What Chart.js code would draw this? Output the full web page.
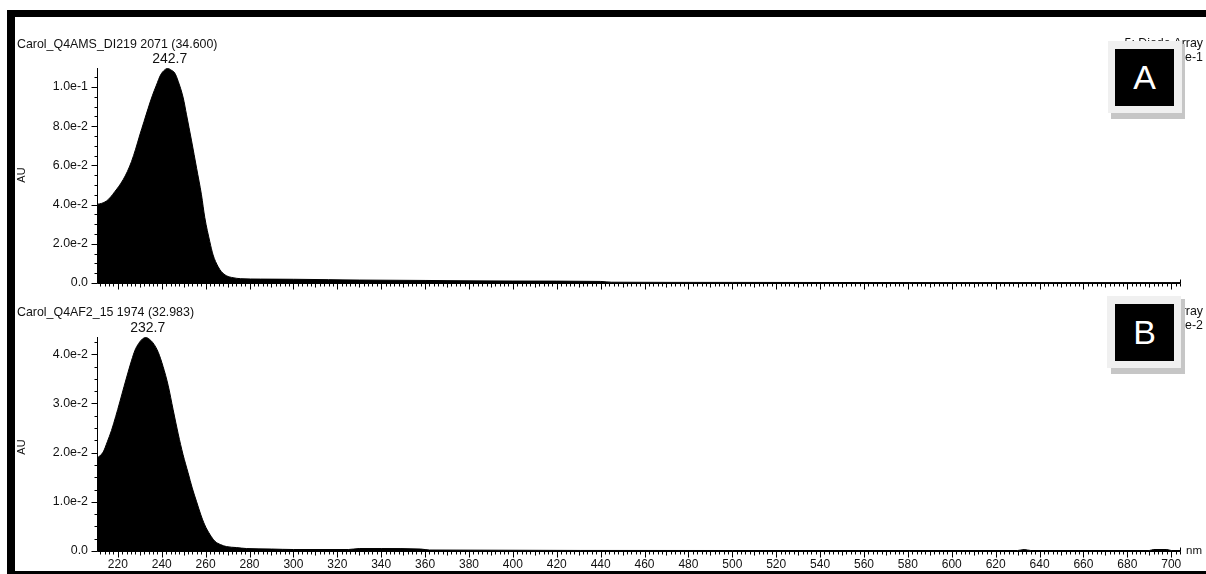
<!DOCTYPE html>
<html><head><meta charset="utf-8">
<script src="https://cdn.jsdelivr.net/npm/chart.js@4/dist/chart.umd.min.js"></script>
<style>
html,body{margin:0;padding:0;background:#fff;}
body{width:1206px;height:574px;position:relative;overflow:hidden;font-family:"Liberation Sans",Arial,sans-serif;}
canvas{position:absolute;left:0;}
.t{position:absolute;font-size:12.4px;color:#111;white-space:nowrap;line-height:14px;}
.r{text-align:right;right:3px;}
.bar{position:absolute;background:#000;}
.shadow{position:absolute;background:#c6c6c6;}
.outer{position:absolute;background:#f0f0f0;}
.inner{position:absolute;background:#000;color:#fff;font-size:34px;display:flex;align-items:center;justify-content:center;}
.au{position:absolute;font-size:11px;color:#111;transform:rotate(-90deg);transform-origin:center center;width:20px;text-align:center;line-height:12px;}
</style></head><body>
<canvas id="cA" width="1206" height="300" style="top:0;width:1206px;height:300px"></canvas>
<canvas id="cB" width="1206" height="284" style="top:290px;width:1206px;height:284px"></canvas>

<div class="t" id="titleA" style="left:17px;top:37px"></div>
<div class="t r" style="top:36px">5: Diode Array</div>
<div class="t r" style="top:50px">Range: 1.095e-1</div>
<div class="t" id="titleB" style="left:17px;top:305px"></div>
<div class="t r" style="top:304px">5: Diode Array</div>
<div class="t r" style="top:318px">Range: 4.334e-2</div>
<div class="t" style="left:1186px;top:543px;font-size:11.5px">nm</div>
<div class="au" style="left:11px;top:169px">AU</div>
<div class="au" style="left:11px;top:441px">AU</div>

<div class="shadow" style="left:1111px;top:44px;width:74px;height:75px"></div>
<div class="outer" style="left:1108px;top:41px;width:74px;height:72px"></div>
<div class="inner" style="left:1115px;top:49px;width:59px;height:57px">A</div>
<div class="shadow" style="left:1111px;top:299px;width:74px;height:75px"></div>
<div class="outer" style="left:1107px;top:296px;width:74px;height:72px"></div>
<div class="inner" style="left:1115px;top:304px;width:59px;height:57px">B</div>

<div class="bar" style="left:7px;top:10px;width:1199px;height:7px"></div>
<div class="bar" style="left:7px;top:10px;width:8px;height:564px"></div>
<div class="bar" style="left:7px;top:571px;width:1199px;height:3px"></div>

<script>
// ---------- data ----------
const titleA = "Carol_Q4AMS_DI219 2071 (34.600)";
const titleB = "Carol_Q4AF2_15 1974 (32.983)";
const peakA = {x: 242.7, text: "242.7"};
const peakB = {x: 232.7, text: "232.7"};

const wavelengthA = [210.6,212.5,214.8,216.8,218.6,220.5,222.4,224.3,226.2,228.1,230.0,231.9,233.8,235.7,237.6,239.5,241.3,242.7,244.2,246.0,247.5,249.8,251.3,253.6,255.9,258.1,259.6,261.9,263.4,265.7,267.2,269.5,272.5,276,285,300,316,330,360,370,400,440,445,500,600,700,704];
const absorbanceA = [0.0402,0.0406,0.0418,0.0440,0.0466,0.0494,0.0527,0.0568,0.0619,0.0683,0.0755,0.0823,0.0891,0.0955,0.1010,0.1062,0.1087,0.1095,0.1087,0.1070,0.1029,0.0944,0.0858,0.0725,0.0585,0.0450,0.0335,0.0211,0.0143,0.0083,0.0058,0.0037,0.0027,0.0022,0.0020,0.0019,0.0017,0.0015,0.0013,0.0012,0.0010,0.0008,0.0004,0.0003,0.0002,0.0002,0.0002];

const wavelengthB = [210.6,213.3,215.2,217.1,219.0,220.9,222.8,224.7,226.3,227.8,229.5,231.2,232.7,234.5,236.5,238.4,240.6,242.9,245.2,247.5,249.7,252.0,253.9,255.9,257.7,259.6,261.9,264.2,266.8,269.5,274,278.6,290,300,325,330,340,358,362,500,630,633,636,690,692,698,700,704];
const absorbanceB = [0.0189,0.0201,0.0222,0.0245,0.0273,0.0303,0.0334,0.0364,0.0388,0.0408,0.0422,0.0431,0.0434,0.0430,0.0420,0.0404,0.0375,0.0337,0.0287,0.0238,0.0196,0.0159,0.0128,0.0100,0.0075,0.0053,0.0034,0.0020,0.0013,0.0009,0.0007,0.0005,0.0004,0.0003,0.0003,0.0005,0.0005,0.0004,0.0002,0.0001,0.0001,0.0003,0.0001,0.0001,0.0003,0.0003,0.0001,0.0001];

const xTicks = [220,240,260,280,300,320,340,360,380,400,420,440,460,480,500,520,540,560,580,600,620,640,660,680,700];
const yTicksA = [0, 0.02, 0.04, 0.06, 0.08, 0.10];
const yTickLabelsA = ["0.0","2.0e-2","4.0e-2","6.0e-2","8.0e-2","1.0e-1"];
const yTicksB = [0, 0.01, 0.02, 0.03, 0.04];
const yTickLabelsB = ["0.0","1.0e-2","2.0e-2","3.0e-2","4.0e-2"];

document.getElementById('titleA').textContent = titleA;
document.getElementById('titleB').textContent = titleB;

const FONT = '"Liberation Sans", Arial, sans-serif';

const axisDecor = {
  id: 'axisDecor',
  afterDraw(chart, args, o) {
    const ctx = chart.ctx, xs = chart.scales.x, ys = chart.scales.y, a = chart.chartArea;
    ctx.save();
    ctx.strokeStyle = '#000'; ctx.lineWidth = 1;
    const xl = Math.round(a.left) + 0.5, yb = Math.round(a.bottom) + 0.5;
    ctx.beginPath();
    ctx.moveTo(xl, a.top); ctx.lineTo(xl, yb);
    ctx.moveTo(xl, yb); ctx.lineTo(Math.round(a.right) + 0.5, yb); ctx.lineTo(Math.round(a.right) + 0.5, yb - 4);
    for (let i = 0; i * o.yMinor <= ys.max + 1e-12; i++) {
      const v = i * o.yMinor;
      const major = i % o.yPerMajor === 0;
      const py = Math.round(ys.getPixelForValue(v)) + 0.5;
      ctx.moveTo(xl - (major ? 6 : 3), py); ctx.lineTo(xl, py);
    }
    for (let v = Math.ceil(xs.min / 2) * 2; v <= xs.max; v += 2) {
      const len = v % 20 === 0 ? 6 : (v % 10 === 0 ? 4 : 3);
      const px = Math.round(xs.getPixelForValue(v)) + 0.5;
      ctx.moveTo(px, yb); ctx.lineTo(px, yb + len);
    }
    ctx.stroke();
    // peak label
    const ds = chart.data.datasets[0].data;
    const top = ds.reduce((m, p) => p.y > m ? p.y : m, 0);
    ctx.fillStyle = '#111';
    ctx.font = '14px ' + FONT;
    ctx.textAlign = 'center'; ctx.textBaseline = 'bottom';
    ctx.fillText(o.peak.text, xs.getPixelForValue(o.peak.x) + 2, ys.getPixelForValue(top) - 2);
    ctx.restore();
  }
};

function makeChart(id, xsArr, ysArr, yMax, yTicks, yLabels, yMinor, yPerMajor, peak, padTop, xAxisH, showX) {
  const pts = xsArr.map((x, i) => ({x: x, y: ysArr[i]}));
  return new Chart(document.getElementById(id), {
    type: 'line',
    data: { datasets: [{ data: pts, borderColor: '#000', backgroundColor: '#000', borderWidth: 1, fill: 'origin', pointRadius: 0, cubicInterpolationMode: 'monotone' }] },
    options: {
      responsive: false, animation: false, devicePixelRatio: 1,
      layout: { padding: { left: 0, right: 26, top: padTop, bottom: 0 } },
      plugins: { legend: { display: false }, tooltip: { enabled: false }, axisDecor: { yMinor: yMinor, yPerMajor: yPerMajor, peak: peak } },
      scales: {
        x: {
          type: 'linear', min: 210.5, max: 704,
          grid: { display: false, drawTicks: true, tickLength: 6 },
          border: { display: false },
          afterBuildTicks: s => { s.ticks = xTicks.map(v => ({value: v})); },
          afterFit: s => { s.height = xAxisH; },
          ticks: { display: showX, autoSkip: false, maxRotation: 0, padding: 0, color: '#111', font: { family: FONT, size: 12 }, callback: v => String(v) }
        },
        y: {
          min: 0, max: yMax,
          grid: { display: false, drawTicks: true, tickLength: 6 },
          border: { display: false },
          afterBuildTicks: s => { s.ticks = yTicks.map(v => ({value: v})); },
          afterFit: s => { s.width = 97; },
          ticks: { autoSkip: false, padding: 3, color: '#111', font: { family: FONT, size: 12.4 },
            callback: (v) => { const i = yTicks.findIndex(t => Math.abs(t - v) < 1e-9); return i >= 0 ? yLabels[i] : ''; } }
        }
      }
    },
    plugins: [axisDecor]
  });
}

makeChart('cA', wavelengthA, absorbanceA, 0.1097, yTicksA, yTickLabelsA, 0.005, 4, peakA, 68, 17, false);
makeChart('cB', wavelengthB, absorbanceB, 0.0435, yTicksB, yTickLabelsB, 0.0025, 4, peakB, 47, 23, true);
</script>
</body></html>
